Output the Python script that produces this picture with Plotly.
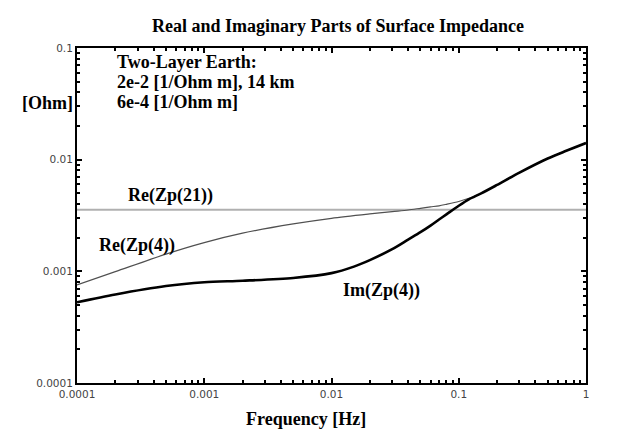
import plotly.graph_objects as go

# ---- data ----
freq_re21 = [1e-4, 1.0]
re_zp21 = [0.00356, 0.00356]

freq_re4 = [1e-4, 2e-4, 5e-4, 1e-3, 2e-3, 5e-3, 1e-2, 2e-2, 3e-2, 4e-2, 5e-2, 6e-2, 7e-2, 8e-2,
            0.1, 0.12, 0.15, 0.2, 0.3, 0.5, 0.7, 1.0]
re_zp4 = [0.000755, 0.000993, 0.001427, 0.001809, 0.002196, 0.002659, 0.002985, 0.003268,
          0.003428, 0.003543, 0.003669, 0.003776, 0.003863, 0.003984, 0.004220, 0.004509,
          0.004986, 0.005942, 0.007659, 0.010245, 0.012009, 0.014099]

freq_im4 = [1e-4, 2e-4, 5e-4, 1e-3, 2e-3, 5e-3, 1e-2, 1.5e-2, 2e-2, 3e-2, 4e-2, 5e-2, 6e-2,
            7e-2, 8e-2, 0.1, 0.12, 0.15, 0.2, 0.3, 0.5, 0.7, 1.0]
im_zp4 = [0.000529, 0.000621, 0.000739, 0.000798, 0.000824, 0.000873, 0.000964, 0.001102,
          0.001261, 0.001579, 0.001924, 0.002242, 0.002568, 0.002911, 0.003235, 0.003863,
          0.004407, 0.004986, 0.005942, 0.007659, 0.010245, 0.012009, 0.014099]

x_tickvals = [1e-4, 1e-3, 1e-2, 1e-1, 1]
x_ticktext = ["0.0001", "0.001", "0.01", "0.1", "1"]
y_tickvals = [1e-4, 1e-3, 1e-2, 1e-1]
y_ticktext = ["0.0001", "0.001", "0.01", "0.1"]

title_text = "Real and Imaginary Parts of Surface Impedance"
info_lines = ["Two-Layer Earth:", "2e-2 [1/Ohm m], 14 km", "6e-4 [1/Ohm m]"]
x_title = "Frequency [Hz]"
y_title = "[Ohm]"

# ---- layout geometry (pixels) ----
W, H = 630, 440
L, R, T, B = 69, 578, 40, 375


def px(x):
    return (x - L) / (R - L)


def py(y):
    return (B - y) / (B - T)


minor_x = [m * 10 ** e for e in range(-4, 0) for m in range(2, 10)]
minor_y = [m * 10 ** e for e in range(-4, -1) for m in range(2, 10)]

fig = go.Figure()
fig.add_trace(go.Scatter(x=freq_re21, y=re_zp21, mode="lines",
                         line=dict(color="#b0b0b0", width=2), showlegend=False))
fig.add_trace(go.Scatter(x=freq_re4, y=re_zp4, mode="lines",
                         line=dict(color="#505050", width=1.2, shape="spline", smoothing=0.8),
                         showlegend=False))
fig.add_trace(go.Scatter(x=freq_im4, y=im_zp4, mode="lines",
                         line=dict(color="black", width=2.6, shape="spline", smoothing=0.8),
                         showlegend=False))

tickfont = dict(family="DejaVu Sans", size=10.5, color="#444444")
axis_common = dict(type="log", showline=True, linecolor="black", linewidth=2,
                   mirror="allticks", ticks="inside", ticklen=5, tickwidth=1.5,
                   tickcolor="black", showgrid=False, zeroline=False, tickfont=tickfont)

fig.update_xaxes(range=[-4, 0], tickvals=x_tickvals, ticktext=x_ticktext,
                 minor=dict(ticks="inside", ticklen=3, tickwidth=1.5, tickcolor="black",
                            tickvals=minor_x, showgrid=False),
                 **axis_common)
fig.update_yaxes(range=[-4, -1], tickvals=y_tickvals, ticktext=y_ticktext,
                 minor=dict(ticks="inside", ticklen=3, tickwidth=1.5, tickcolor="black",
                            tickvals=minor_y, showgrid=False),
                 **axis_common)

serif = dict(family="Liberation Serif", size=18, color="black")
ann = []
ann.append(dict(text="<b>%s</b>" % title_text, x=px(330), y=py(18), xanchor="center"))
for i, line in enumerate(info_lines):
    ann.append(dict(text="<b>%s</b>" % line, x=px(107), y=py(54 + 20 * i), xanchor="left"))
ann.append(dict(text="<b>%s</b>" % y_title, x=px(67), y=py(95), xanchor="right"))
ann.append(dict(text="<b>Re(Zp(21))</b>", x=px(118), y=py(187), xanchor="left"))
ann.append(dict(text="<b>Re(Zp(4))</b>", x=px(89), y=py(237), xanchor="left"))
ann.append(dict(text="<b>Im(Zp(4))</b>", x=px(333), y=py(282), xanchor="left"))
ann.append(dict(text="<b>%s</b>" % x_title, x=px(297.5), y=py(411), xanchor="center"))
for a in ann:
    a.update(xref="paper", yref="paper", yanchor="middle", showarrow=False, font=serif)

fig.update_layout(width=W, height=H, margin=dict(l=L, r=W - R, t=T, b=H - B),
                  paper_bgcolor="white", plot_bgcolor="white", annotations=ann)

fig.write_html("out.html")
